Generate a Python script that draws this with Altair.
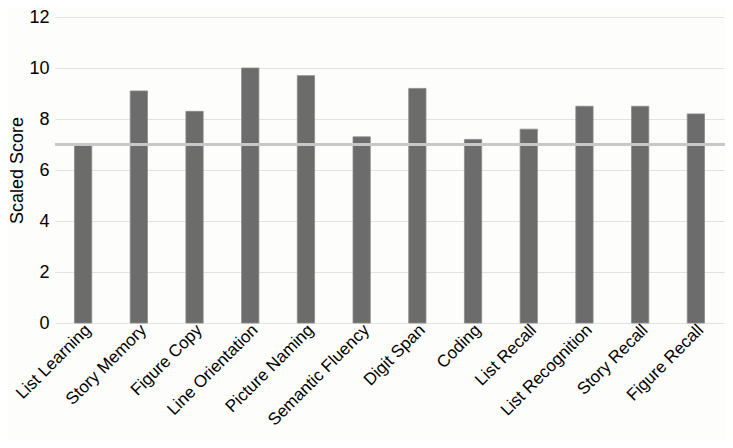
import altair as alt
import pandas as pd

categories = ["List Learning", "Story Memory", "Figure Copy", "Line Orientation",
              "Picture Naming", "Semantic Fluency", "Digit Span", "Coding",
              "List Recall", "List Recognition", "Story Recall", "Figure Recall"]
scores = [7.0, 9.1, 8.3, 10.0, 9.7, 7.3, 9.2, 7.2, 7.6, 8.5, 8.5, 8.2]
reference_value = [7]

df = pd.DataFrame({"test": categories, "score": scores})
ref = pd.DataFrame({"y": reference_value})

FONT = "Liberation Sans"

bars = alt.Chart(df).mark_bar(color="#6c6c6c", stroke="#8a8a8a", strokeWidth=0.8).encode(
    x=alt.X("test:N", sort=categories, title=None,
            scale=alt.Scale(paddingInner=0.69, paddingOuter=0.35),
            axis=alt.Axis(labelAngle=-45, labelAlign="right", labelBaseline="middle",
                          labelFontSize=17, labelColor="#000", labelFont=FONT,
                          domain=False, ticks=False, labelPadding=4, labelOffset=5)),
    y=alt.Y("score:Q", title="Scaled Score",
            scale=alt.Scale(domain=[0, 12], nice=False),
            axis=alt.Axis(values=[0, 2, 4, 6, 8, 10, 12], grid=True, gridColor="#e2e2e2",
                          domain=False, ticks=False, labelFontSize=18, labelColor="#000",
                          labelFont=FONT, labelPadding=6, titleFont=FONT, titleFontSize=18,
                          titleFontWeight="normal", titleColor="#000", titlePadding=2)),
)

rule = alt.Chart(ref).mark_rule(color="#c8c8c8", strokeWidth=3).encode(
    y="y:Q", x=alt.value(0), x2=alt.value(678)
)

chart = alt.layer(bars, rule).properties(
    width=669, height=306,
    autosize=alt.AutoSizeParams(type="none"),
    padding={"left": 47, "top": 9, "right": 1, "bottom": 117},
    background="#fdfdfb",
).configure_view(stroke=None)

chart.save("out.html", embed_options={"renderer": "svg", "actions": False})
